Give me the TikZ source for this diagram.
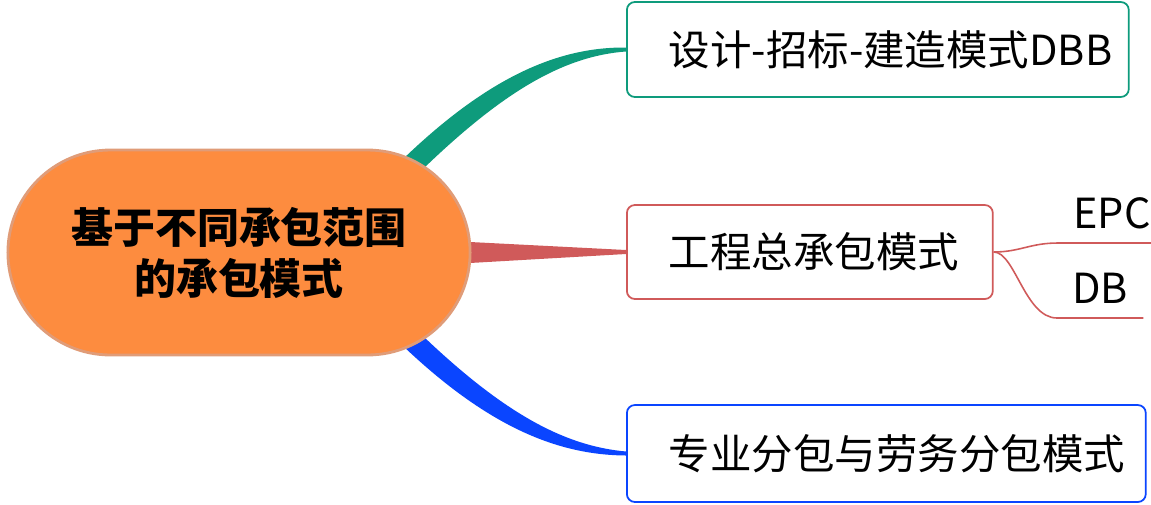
\documentclass[tikz,border=0pt]{standalone}
\usepackage{fontspec}
\setmainfont{Noto Sans CJK SC}
\usepackage{tikz}
\usetikzlibrary{positioning, calc, shapes.misc, backgrounds}
\definecolor{RootOrange}{HTML}{FD8C3F}
\definecolor{RootEdge}{HTML}{E09C78}
\definecolor{BrGreen}{HTML}{0E9B7C}
\definecolor{BrRed}{HTML}{D05A5A}
\definecolor{BrBlue}{HTML}{0A45FF}
\exhyphenpenalty=10000

\begin{document}
\begin{tikzpicture}[
        x=0.02cm, y=-0.02cm,
        root/.style={shape=rounded rectangle, draw=RootEdge, fill=RootOrange, line width=1.6pt,
          minimum width=9.48cm, minimum height=4.1cm, align=center,
          font=\bfseries\fontsize{23.9}{29}\selectfont},
        topic/.style={draw, rounded corners=0.16cm, line width=1pt, fill=white, anchor=west,
          inner xsep=0.84cm, inner ysep=0pt, align=left, font=\fontsize{23.6}{28}\selectfont},
        leaf/.style={anchor=south west, inner xsep=0.3cm, inner ysep=0.28cm, text depth=0pt,
          font=\fontsize{23.6}{28}\selectfont},
        twig/.style={BrRed, line width=0.9pt},
      ]
        \useasboundingbox (0,0) rectangle (1151,504);
        % --- 中心主题 ---
        \node[root] (root) at (239,252.5) {基于不同承包范围\\的承包模式};
        % --- 三个分支主题 ---
        \node[topic, draw=BrGreen, minimum width=10.04cm, minimum height=1.9cm, text width=8.36cm]
          (dbb) at (626,49.5) {设计-招标-建造模式DBB};
        \node[topic, draw=BrRed, minimum width=7.32cm, minimum height=1.88cm, text width=5.64cm]
          (epcall) at (626,252) {工程总承包模式};
        \node[topic, draw=BrBlue, minimum width=10.38cm, minimum height=1.94cm, text width=8.70cm]
          (sub) at (626,453.5) {专业分包与劳务分包模式};
        % --- 锥形连线（放在背景层，被中心主题盖住）---
        \begin{scope}[on background layer]
          \fill[BrGreen] ($(root.center)+(163,-92.5)$) .. controls (490,75) and (560,47) .. ($(dbb.west)+(0,-2)$)
            -- ($(dbb.west)+(0,2)$) .. controls (565,56) and (505,90) .. ($(root.center)+(185,-84.5)$) -- cycle;
          \fill[BrRed] ($(root.center)+(231,-10.5)$) -- ($(epcall.west)+(0,-2)$)
            -- ($(epcall.west)+(0,2)$) -- ($(root.center)+(231,10.5)$) -- cycle;
          \fill[BrBlue] ($(root.center)+(163,92.5)$) .. controls (490,429) and (560,455) .. ($(sub.west)+(0,2)$)
            -- ($(sub.west)+(0,-2)$) .. controls (565,446) and (505,414) .. ($(root.center)+(185,84.5)$) -- cycle;
        \end{scope}
        % --- 工程总承包的子主题 ---
        \node[leaf] (epc) at (1058,243) {EPC};
        \node[leaf] (db) at (1057,318) {DB};
        \draw[twig] (epcall.east) .. controls (1020,252) and (1030,243) .. (epc.south west) -- (epc.south east);
        \draw[twig] (epcall.east) .. controls (1015,252) and (1025,318) .. (db.south west) -- (db.south east);
      \end{tikzpicture}
\end{document}
